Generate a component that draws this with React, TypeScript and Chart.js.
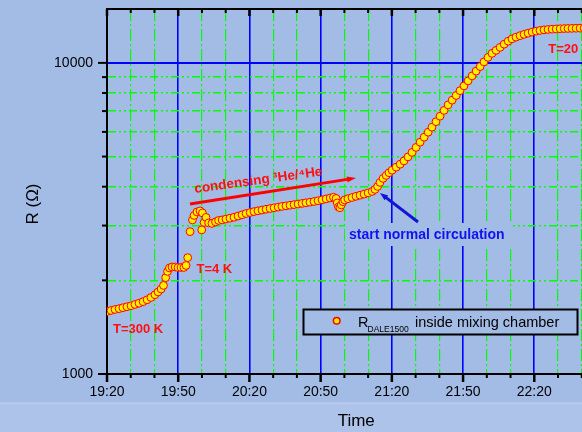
import React, { useEffect, useRef } from 'react';
import { Chart, registerables } from 'chart.js';

Chart.register(...registerables);

// ---------- data (minutes after 19:20, resistance in ohm) ----------
const startClock = [19, 20];

const timeMin = [
  0.0, 1.7, 3.4, 5.1, 6.7, 8.4, 10.1, 11.8, 13.5, 15.2, 16.9, 18.5, 20.2, 21.5, 22.8, 23.8,
  24.7, 25.5, 26.3, 27.4, 28.7, 29.9, 31.2, 32.4, 33.3, 34.0,
  35.0, 36.0, 36.7, 37.9, 39.2, 39.9, 40.2, 40.9, 41.7, 42.8, 44.2, 45.7, 47.0,
  48.5, 50.1, 51.8, 53.5, 55.2, 56.9, 58.6, 60.3, 61.9, 63.6, 65.3, 67.0, 68.7, 70.4, 72.1,
  73.7, 75.4, 77.1, 78.8, 80.5, 82.2, 83.8, 85.5, 87.2, 88.9, 90.6, 92.3, 94.0, 95.4,
  96.5, 97.0, 97.5, 98.1, 98.7, 99.4, 100.1,
  101.5, 103.2, 104.9, 106.6, 108.3, 110.0, 111.7, 112.9, 114.0, 115.0, 116.3, 117.6, 118.8,
  120.1, 121.8, 123.5, 125.1, 126.8, 128.5, 130.2, 131.9, 133.6, 135.3, 136.9, 138.6, 140.3,
  142.0, 143.7, 145.4, 147.1, 148.7, 150.4, 152.1, 153.8, 155.5, 157.2, 158.8, 160.5, 162.2,
  163.9, 165.6, 167.3, 169.0, 170.6, 172.3, 174.0, 175.7, 177.4, 179.1, 180.8, 182.4, 184.1,
  185.8, 187.5, 189.2, 190.9, 192.6, 194.2, 195.9, 197.6, 199.3, 201.0, 202.7, 204.4, 206.0, 207.7,
];

const resistance = [
  1588, 1600, 1612, 1622, 1633, 1645, 1657, 1673, 1689, 1708, 1732, 1762, 1798, 1835, 1876, 1926,
  2040, 2136, 2192, 2208, 2208, 2200, 2200, 2200, 2233, 2366,
  2868, 3128, 3233, 3318, 3343, 2905, 3294, 3070, 3186, 3059, 3048, 3082, 3116,
  3128, 3148, 3167, 3191, 3219, 3248, 3279, 3304, 3326, 3346, 3365, 3385, 3403, 3421, 3438,
  3456, 3472, 3487, 3503, 3518, 3534, 3550, 3566, 3584, 3605, 3629, 3654, 3678, 3700,
  3667, 3547, 3444, 3423, 3495, 3579, 3627,
  3659, 3692, 3725, 3755, 3786, 3820, 3862, 3920, 4008, 4128, 4253, 4348, 4436,
  4519, 4620, 4724, 4841, 4986, 5155, 5350, 5560, 5769, 5987, 6213, 6471, 6740,
  7036, 7328, 7588, 7857, 8141, 8435, 8753, 9082, 9410, 9730, 10074, 10416, 10729,
  10970, 11216, 11485, 11743, 11945, 12096, 12231, 12349, 12460, 12561, 12645, 12711, 12768,
  12806, 12834, 12853, 12872, 12891, 12901, 12910, 12920, 12929, 12929, 12939, 12948, 12958, 12958,
];

const yLabelValues = [1000, 10000];
const xMajorStep = 30;
const xMinorStep = 10;
const xRange = [0, 210];
const yRange = [1000, 14900];

// ---------- styles ----------
const FONT = '"Liberation Sans", Arial, Helvetica, sans-serif';
const BG = '#a3bce5';
const BG2 = '#adc3e9';
const GREEN = '#00ff00';
const BLUE = '#0000ff';
const RED = '#ff0000';
const YELLOW = '#ffee00';
const CLEAR = 'rgba(0,0,0,0)';

function clock(v: number): string {
  const m = startClock[0] * 60 + startClock[1] + Math.round(v);
  const h = Math.floor(m / 60) % 24;
  const mm = m % 60;
  return `${h}:${String(mm).padStart(2, '0')}`;
}

const isYLabel = (v: number) => yLabelValues.some((l) => Math.abs(l - v) < 1e-6);
const isXMajor = (v: number) => Math.abs(v % xMajorStep) < 1e-6;

function line(ctx: CanvasRenderingContext2D, x1: number, y1: number, x2: number, y2: number) {
  ctx.beginPath();
  ctx.moveTo(x1, y1);
  ctx.lineTo(x2, y2);
  ctx.stroke();
}

function arrow(
  ctx: CanvasRenderingContext2D,
  x1: number, y1: number, x2: number, y2: number,
  color: string, w: number, head: number, hw: number,
) {
  const a = Math.atan2(y2 - y1, x2 - x1);
  const c = Math.cos(a), s = Math.sin(a);
  ctx.save();
  ctx.strokeStyle = color;
  ctx.fillStyle = color;
  ctx.lineWidth = w;
  ctx.lineCap = 'butt';
  line(ctx, x1, y1, x2 - c * head * 0.8, y2 - s * head * 0.8);
  ctx.beginPath();
  ctx.moveTo(x2, y2);
  ctx.lineTo(x2 - head * c + hw * s, y2 - head * s - hw * c);
  ctx.lineTo(x2 - head * c - hw * s, y2 - head * s + hw * c);
  ctx.closePath();
  ctx.fill();
  ctx.restore();
}

const decorPlugin = {
  id: 'decor',
  beforeDraw(chart: any) {
    const { ctx, width, height } = chart;
    ctx.save();
    ctx.fillStyle = BG;
    ctx.fillRect(0, 0, width, height);
    ctx.fillStyle = BG2;
    ctx.fillRect(0, 403, width, height - 403);
    ctx.fillStyle = '#c3d3ef';
    ctx.fillRect(0, 402.5, width, 1);
    ctx.restore();
  },
  afterDatasetsDraw(chart: any) {
    const ctx: CanvasRenderingContext2D = chart.ctx;
    ctx.save();

    // temperature labels
    ctx.fillStyle = '#ff1010';
    ctx.font = `bold 13px ${FONT}`;
    ctx.textAlign = 'left';
    ctx.textBaseline = 'alphabetic';
    ctx.fillText('T=300 K', 113, 333);
    ctx.fillText('T=4 K', 196.5, 273);
    ctx.fillText('T=20 mK', 548.3, 53);

    // condensing label + arrow
    ctx.save();
    ctx.translate(195, 193);
    ctx.rotate(-7.8 * Math.PI / 180);
    ctx.font = `bold 13.5px ${FONT}`;
    ctx.fillText('condensing \u00B3He/\u2074He', 0, 0);
    ctx.restore();
    arrow(ctx, 190, 204, 356, 178, RED, 3, 9, 3);

    // start normal circulation
    ctx.fillStyle = BG;
    ctx.fillRect(345, 223, 168, 23);
    arrow(ctx, 418, 222, 380, 193, '#1414d8', 3, 8, 3);
    ctx.fillStyle = '#1212ee';
    ctx.font = `bold 14px ${FONT}`;
    ctx.fillText('start normal circulation', 349, 238.5);

    // legend
    const lx = 303.5, ly = 309.5, lw = 274, lh = 25;
    ctx.fillStyle = BG;
    ctx.fillRect(lx, ly, lw, lh);
    ctx.strokeStyle = '#000';
    ctx.lineWidth = 2;
    ctx.strokeRect(lx, ly, lw, lh);
    ctx.beginPath();
    ctx.arc(336.7, 320.7, 3.3, 0, Math.PI * 2);
    ctx.fillStyle = YELLOW;
    ctx.fill();
    ctx.strokeStyle = RED;
    ctx.lineWidth = 1.5;
    ctx.stroke();
    ctx.fillStyle = '#000';
    ctx.font = `14.5px ${FONT}`;
    ctx.fillText('R', 358, 326.5);
    ctx.font = `8.5px ${FONT}`;
    ctx.fillText('DALE1500', 367.5, 331.8);
    ctx.font = `14.5px ${FONT}`;
    ctx.fillText('inside mixing chamber', 415, 326.5);

    ctx.restore();
  },
  afterDraw(chart: any) {
    const ctx: CanvasRenderingContext2D = chart.ctx;
    const { left, right, top, bottom } = chart.chartArea;
    const xs = chart.scales.x;
    const ys = chart.scales.y;
    ctx.save();
    ctx.strokeStyle = '#000';
    // top frame
    ctx.lineWidth = 2;
    line(ctx, left - 1, top, right, top);
    // x ticks (bottom outward, top inward)
    for (const t of xs.ticks) {
      const v = t.value;
      const px = xs.getPixelForValue(v);
      const major = isXMajor(v);
      ctx.lineWidth = major ? 2.5 : 2;
      line(ctx, px, bottom, px, bottom + (major ? 8 : 4));
      line(ctx, px, top, px, top + (major ? 7 : 4));
    }
    // y ticks (left outward)
    for (const t of ys.ticks) {
      const v = t.value;
      if (v > 10000 + 1e-6) continue;
      const py = ys.getPixelForValue(v);
      const major = isYLabel(v);
      ctx.lineWidth = 2;
      line(ctx, left - (major ? 9 : 5), py, left, py);
    }
    // y axis title
    ctx.save();
    ctx.translate(33, 204);
    ctx.rotate(-Math.PI / 2);
    ctx.fillStyle = '#000';
    ctx.font = `17px ${FONT}`;
    ctx.textAlign = 'center';
    ctx.textBaseline = 'middle';
    ctx.fillText('R (\u03A9)', 0, 0);
    ctx.restore();
    ctx.restore();
  },
};

export default function App() {
  const ref = useRef<HTMLCanvasElement>(null);

  useEffect(() => {
    const canvas = ref.current;
    if (!canvas) return;
    const points = timeMin.map((t, i) => ({ x: t, y: resistance[i] }));

    const chart = new Chart(canvas, {
      type: 'scatter',
      data: {
        datasets: [
          {
            label: 'R DALE1500 inside mixing chamber',
            data: points,
            showLine: true,
            borderColor: YELLOW,
            borderWidth: 6,
            segment: {
              // dense runs of samples merge into a continuous band; isolated samples stay separate
              borderColor: (c: any) =>
                Math.hypot(c.p1.x - c.p0.x, c.p1.y - c.p0.y) > 7.5 ? CLEAR : YELLOW,
            },
            pointRadius: 3.9,
            pointBorderWidth: 1,
            pointBackgroundColor: YELLOW,
            pointBorderColor: RED,
            pointHoverRadius: 3.9,
          },
        ],
      },
      options: {
        responsive: false,
        animation: false,
        devicePixelRatio: 1,
        events: [],
        layout: { autoPadding: false, padding: { top: 9, right: 6.5, left: 0, bottom: 0 } },
        plugins: { legend: { display: false }, tooltip: { enabled: false } },
        scales: {
          x: {
            type: 'linear',
            position: 'bottom',
            min: xRange[0],
            max: xRange[1],
            afterFit: (s: any) => {
              s.height = 58;
              s.paddingLeft = 0;
              s.paddingRight = 0;
              s.paddingTop = 0;
              s.paddingBottom = 0;
            },
            ticks: {
              stepSize: xMinorStep,
              autoSkip: false,
              maxRotation: 0,
              minRotation: 0,
              padding: 10,
              color: '#000',
              font: { size: 14, family: FONT },
              callback: (v: any) => (isXMajor(Number(v)) ? clock(Number(v)) : ''),
            },
            grid: {
              drawTicks: false,
              color: (c: any) => {
                const v = c.tick ? c.tick.value : 0;
                if (v <= xRange[0]) return CLEAR;
                return isXMajor(v) ? BLUE : GREEN;
              },
              lineWidth: (c: any) => {
                const v = c.tick ? c.tick.value : 0;
                return isXMajor(v) ? 1.6 : 1.2;
              },
            },
            border: {
              display: true,
              color: '#000',
              width: 2,
              dash: (c: any) => {
                if (!c.tick) return [];
                return isXMajor(c.tick.value) ? [] : [12, 3, 2, 3];
              },
            },
            title: {
              display: true,
              text: 'Time',
              color: '#000',
              font: { size: 17, family: FONT },
              padding: { top: 0, bottom: 0 },
            },
          },
          y: {
            type: 'logarithmic',
            position: 'left',
            min: yRange[0],
            max: yRange[1],
            afterFit: (s: any) => {
              s.width = 107;
              s.paddingLeft = 0;
              s.paddingRight = 0;
              s.paddingTop = 0;
              s.paddingBottom = 0;
            },
            ticks: {
              autoSkip: false,
              padding: 14,
              color: '#000',
              font: { size: 14, family: FONT },
              callback: (v: any) => (isYLabel(Number(v)) ? String(Math.round(Number(v))) : ''),
            },
            grid: {
              drawTicks: false,
              color: (c: any) => {
                const v = c.tick ? c.tick.value : 0;
                if (v <= yRange[0] + 1e-6 || v >= yRange[1] - 1e-6) return CLEAR;
                return isYLabel(v) ? BLUE : GREEN;
              },
              lineWidth: (c: any) => {
                const v = c.tick ? c.tick.value : 0;
                return isYLabel(v) ? 2 : 1.6;
              },
            },
            border: {
              display: true,
              color: '#000',
              width: 2,
              dash: (c: any) => {
                if (!c.tick) return [];
                return isYLabel(c.tick.value) ? [] : [8, 3, 2, 3, 2, 3];
              },
            },
          },
        },
      },
      plugins: [decorPlugin],
    } as any);

    return () => chart.destroy();
  }, []);

  return (
    <div style={{ position: 'fixed', left: 0, top: 0, width: 582, height: 432, overflow: 'hidden' }}>
      <canvas ref={ref} width={612} height={432} style={{ display: 'block' }} />
    </div>
  );
}
